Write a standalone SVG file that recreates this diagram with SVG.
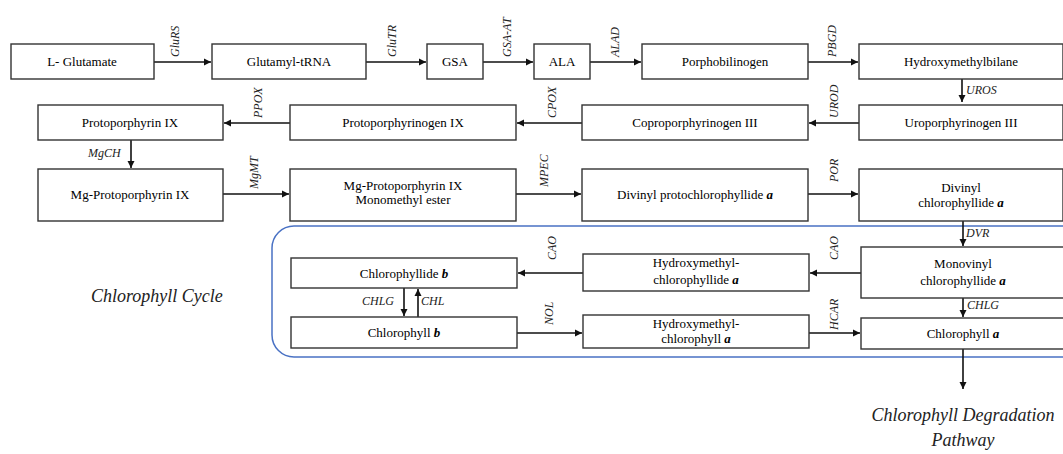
<svg xmlns="http://www.w3.org/2000/svg" width="1063" height="454" viewBox="0 0 1063 454">
<defs>
<style>
.box{fill:#fff;stroke:#333;stroke-width:1.4}
.t{font-family:"Liberation Serif",serif;font-size:13px;fill:#000;text-anchor:middle}
.i{font-style:italic;font-weight:bold}
.lab{font-family:"Liberation Serif",serif;font-size:12px;font-style:italic;fill:#222}
.big{font-family:"Liberation Serif",serif;font-size:18px;font-style:italic;fill:#222}
.c{stroke:#111;stroke-width:1.6;fill:none;marker-end:url(#ah)}
</style>
<marker id="ah" viewBox="0 0 10 10" refX="10" refY="5" markerWidth="4.5" markerHeight="4.5" orient="auto" markerUnits="strokeWidth">
<path d="M0,0 L10,5 L0,10 z" fill="#111"/>
</marker>
</defs>
<rect width="1063" height="454" fill="#fff"/>
<rect x="272" y="226" width="820" height="131" rx="22" ry="22" fill="none" stroke="#4a72c4" stroke-width="1.5"/>

<g id="connectors">
<line class="c" x1="154" y1="62" x2="211" y2="62"/>
<line class="c" x1="366" y1="62" x2="426" y2="62"/>
<line class="c" x1="483" y1="62" x2="533" y2="62"/>
<line class="c" x1="590" y1="62" x2="641" y2="62"/>
<line class="c" x1="808" y1="62" x2="858" y2="62"/>
<line class="c" x1="962" y1="79" x2="962" y2="102"/>
<line class="c" x1="859" y1="123" x2="809" y2="123"/>
<line class="c" x1="582" y1="123" x2="517" y2="123"/>
<line class="c" x1="290" y1="123" x2="224" y2="123"/>
<line class="c" x1="131" y1="140" x2="131" y2="168"/>
<line class="c" x1="223" y1="194" x2="289" y2="194"/>
<line class="c" x1="516" y1="194" x2="581" y2="194"/>
<line class="c" x1="808" y1="194" x2="858" y2="194"/>
<line class="c" x1="963" y1="220" x2="963" y2="246"/>
<line class="c" x1="861" y1="273" x2="810" y2="273"/>
<line class="c" x1="583" y1="273" x2="518" y2="273"/>
<line class="c" x1="404" y1="288" x2="404" y2="316"/>
<line class="c" x1="418" y1="317" x2="418" y2="289"/>
<line class="c" x1="517" y1="333" x2="582" y2="333"/>
<line class="c" x1="809" y1="333" x2="860" y2="333"/>
<line class="c" x1="963" y1="298" x2="963" y2="317"/>
<line class="c" x1="963" y1="349" x2="963" y2="389"/>
</g>

<g id="labels">
<text class="lab" transform="translate(179,57) rotate(-90)">GluRS</text>
<text class="lab" transform="translate(396,57) rotate(-90)">GluTR</text>
<text class="lab" transform="translate(511,57) rotate(-90)">GSA-AT</text>
<text class="lab" transform="translate(619,57) rotate(-90)">ALAD</text>
<text class="lab" transform="translate(836,57) rotate(-90)">PBGD</text>
<text class="lab" x="966" y="94">UROS</text>
<text class="lab" transform="translate(838,118) rotate(-90)">UROD</text>
<text class="lab" transform="translate(556,118) rotate(-90)">CPOX</text>
<text class="lab" transform="translate(262,118) rotate(-90)">PPOX</text>
<text class="lab" x="88" y="157">MgCH</text>
<text class="lab" transform="translate(258,189) rotate(-90)">MgMT</text>
<text class="lab" transform="translate(548,187) rotate(-90)">MPEC</text>
<text class="lab" transform="translate(838,182) rotate(-90)">POR</text>
<text class="lab" x="966" y="237">DVR</text>
<text class="lab" transform="translate(838,260) rotate(-90)">CAO</text>
<text class="lab" transform="translate(556,260) rotate(-90)">CAO</text>
<text class="lab" transform="translate(553,325) rotate(-90)">NOL</text>
<text class="lab" transform="translate(838,330) rotate(-90)">HCAR</text>
<text class="lab" x="967" y="309">CHLG</text>
<text class="lab" x="362" y="305">CHLG</text>
<text class="lab" x="421" y="305">CHL</text>
<text class="big" x="91" y="302">Chlorophyll Cycle</text>
<text class="big" x="963" y="421" text-anchor="middle">Chlorophyll Degradation</text>
<text class="big" x="963" y="446" text-anchor="middle">Pathway</text>
</g>

<g id="n-glutamate"><rect class="box" x="11" y="44" width="143" height="35"/><text class="t" x="82" y="66">L- Glutamate</text></g>
<g id="n-glutamyl"><rect class="box" x="212" y="44" width="154" height="35"/><text class="t" x="289" y="66">Glutamyl-tRNA</text></g>
<g id="n-gsa"><rect class="box" x="427" y="44" width="56" height="35"/><text class="t" x="455" y="66">GSA</text></g>
<g id="n-ala"><rect class="box" x="534" y="44" width="56" height="35"/><text class="t" x="562" y="66">ALA</text></g>
<g id="n-pbg"><rect class="box" x="642" y="44" width="166" height="35"/><text class="t" x="725" y="66">Porphobilinogen</text></g>
<g id="n-hmb"><rect class="box" x="859" y="44" width="204" height="35"/><text class="t" x="961" y="66">Hydroxymethylbilane</text></g>

<g id="n-proto"><rect class="box" x="38" y="105" width="185" height="35"/><text class="t" x="130" y="127">Protoporphyrin IX</text></g>
<g id="n-protogen"><rect class="box" x="290" y="105" width="226" height="35"/><text class="t" x="403" y="127">Protoporphyrinogen IX</text></g>
<g id="n-copro"><rect class="box" x="582" y="105" width="226" height="35"/><text class="t" x="695" y="127">Coproporphyrinogen III</text></g>
<g id="n-uro"><rect class="box" x="859" y="105" width="204" height="35"/><text class="t" x="961" y="127">Uroporphyrinogen III</text></g>

<g id="n-mgproto"><rect class="box" x="38" y="169" width="185" height="52"/><text class="t" x="130" y="199">Mg-Protoporphyrin IX</text></g>
<g id="n-mgester"><rect class="box" x="290" y="169" width="226" height="52"/><text class="t" x="403" y="190">Mg-Protoporphyrin IX</text><text class="t" x="403" y="204">Monomethyl ester</text></g>
<g id="n-dvpchlide"><rect class="box" x="582" y="169" width="226" height="52"/><text class="t" x="695" y="199">Divinyl protochlorophyllide <tspan class="i">a</tspan></text></g>
<g id="n-dvchlide"><rect class="box" x="859" y="169" width="204" height="52"/><text class="t" x="961" y="192">Divinyl</text><text class="t" x="961" y="207">chlorophyllide <tspan class="i">a</tspan></text></g>

<g id="n-chlideb"><rect class="box" x="291" y="258" width="226" height="30"/><text class="t" x="404" y="278">Chlorophyllide <tspan class="i">b</tspan></text></g>
<g id="n-chlb"><rect class="box" x="291" y="317" width="226" height="31"/><text class="t" x="404" y="337">Chlorophyll <tspan class="i">b</tspan></text></g>
<g id="n-hmchlide"><rect class="box" x="583" y="254" width="226" height="37"/><text class="t" x="696" y="267">Hydroxymethyl-</text><text class="t" x="696" y="284">chlorophyllide <tspan class="i">a</tspan></text></g>
<g id="n-hmchl"><rect class="box" x="583" y="315" width="226" height="33"/><text class="t" x="696" y="328">Hydroxymethyl-</text><text class="t" x="696" y="343">chlorophyll <tspan class="i">a</tspan></text></g>
<g id="n-mvchlide"><rect class="box" x="861" y="247" width="204" height="51"/><text class="t" x="963" y="268">Monovinyl</text><text class="t" x="963" y="285">chlorophyllide <tspan class="i">a</tspan></text></g>
<g id="n-chla"><rect class="box" x="861" y="318" width="204" height="31"/><text class="t" x="963" y="338">Chlorophyll <tspan class="i">a</tspan></text></g>
</svg>
